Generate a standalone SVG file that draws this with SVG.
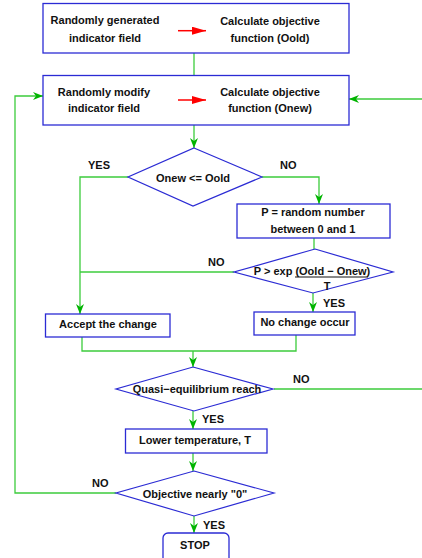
<svg xmlns="http://www.w3.org/2000/svg" width="422" height="558" viewBox="0 0 422 558">
<style>
.box{fill:#fff;stroke:#2b2bd4;stroke-width:1.3}
.dia{fill:#fff;stroke:#2b2bd4;stroke-width:1.2}
.t{font-family:"Liberation Sans",Arial,sans-serif;font-weight:bold;font-size:11px;fill:#111;text-anchor:middle}
.lbl{font-family:"Liberation Sans",Arial,sans-serif;font-weight:bold;font-size:11px;fill:#111}
.c{fill:none;stroke:#3ccc3c;stroke-width:1.3}
.r{fill:none;stroke:#ff0000;stroke-width:1.5}
</style>
<defs>
<marker id="ga" markerUnits="userSpaceOnUse" markerWidth="11" markerHeight="9" refX="10" refY="4" orient="auto" viewBox="0 0 11 9">
<path d="M0,0 L10,4 L0,8 L3,4 z" fill="#00b400"/>
</marker>
<marker id="ra" markerUnits="userSpaceOnUse" markerWidth="15" markerHeight="9" refX="14" refY="4" orient="auto" viewBox="0 0 15 9">
<path d="M0,0 L14,4 L0,8 z" fill="#ff0000"/>
</marker>
</defs>
<g id="connectors">
<path class="c" d="M194,53 V75"/>
<path class="c" d="M116,493 H15 V96 H43" marker-end="url(#ga)"/>
<path class="c" d="M274,389 H424 V99 H349" marker-end="url(#ga)"/>
<path class="c" d="M194,125 V148" marker-end="url(#ga)"/>
<path class="c" d="M128,177 H80 V314" marker-end="url(#ga)"/>
<path class="c" d="M262,177 H319 V204" marker-end="url(#ga)"/>
<path class="c" d="M314,238 V249"/>
<path class="c" d="M234,272 H80"/>
<path class="c" d="M313,293 V312" marker-end="url(#ga)"/>
<path class="c" d="M82,337 V351 H296 V335"/>
<path class="c" d="M193,351 V367" marker-end="url(#ga)"/>
<path class="c" d="M193,411 V429" marker-end="url(#ga)"/>
<path class="c" d="M193,453 V471" marker-end="url(#ga)"/>
<path class="c" d="M194,516 V533" marker-end="url(#ga)"/>
<text class="lbl" x="88" y="169">YES</text>
<text class="lbl" x="280" y="169">NO</text>
<text class="lbl" x="208" y="266">NO</text>
<text class="lbl" x="323" y="307">YES</text>
<text class="lbl" x="293" y="383">NO</text>
<text class="lbl" x="202" y="423">YES</text>
<text class="lbl" x="92" y="487">NO</text>
<text class="lbl" x="203" y="529">YES</text>
</g>
<g id="init">
<rect class="box" x="43" y="3.5" width="306" height="49.5"/>
<text class="t" x="105" y="24">Randomly generated</text>
<text class="t" x="105" y="42">indicator field</text>
<path class="r" d="M178,30.7 H206" marker-end="url(#ra)"/>
<text class="t" x="270" y="25">Calculate objective</text>
<text class="t" x="270" y="42">function (Oold)</text>
</g>
<g id="modify">
<rect class="box" x="43" y="75.5" width="306" height="49.5"/>
<text class="t" x="104" y="96">Randomly modify</text>
<text class="t" x="104" y="112">indicator field</text>
<path class="r" d="M178,100 H206" marker-end="url(#ra)"/>
<text class="t" x="270" y="96">Calculate objective</text>
<text class="t" x="270" y="112">function (Onew)</text>
</g>
<g id="cmp">
<polygon class="dia" points="194,148 262,177 193,206 128,177"/>
<text class="t" x="193" y="182">Onew &lt;= Oold</text>
</g>
<g id="random">
<rect class="box" x="237" y="204" width="153" height="34"/>
<text class="t" x="313" y="216">P = random number</text>
<text class="t" x="313" y="233">between 0 and 1</text>
</g>
<g id="prob">
<polygon class="dia" points="315,249 393,272 313,293 234,272"/>
<text class="t" x="312" y="275">P &gt; exp (Oold − Onew)</text>
<line x1="295" y1="277" x2="368" y2="277" stroke="#111" stroke-width="1"/>
<text class="t" x="327" y="290">T</text>
</g>
<g id="accept">
<rect class="box" x="45.5" y="314" width="124.5" height="23"/>
<text class="t" x="108" y="328">Accept the change</text>
</g>
<g id="nochange">
<rect class="box" x="254" y="312" width="101" height="23"/>
<text class="t" x="305" y="326">No change occur</text>
</g>
<g id="quasi">
<polygon class="dia" points="193,367 273,389 194,411 116,389"/>
<text class="t" x="197" y="393">Quasi−equilibrium reach</text>
</g>
<g id="lower">
<rect class="box" x="125.5" y="429" width="141.5" height="24"/>
<text class="t" x="195" y="444">Lower temperature, T</text>
</g>
<g id="objective">
<polygon class="dia" points="194,471 274,493 194,516 116,493"/>
<text class="t" x="195" y="498">Objective nearly "0"</text>
</g>
<g id="stop">
<rect class="box" x="163" y="533" width="66" height="30" rx="5" ry="5"/>
<text class="t" x="195" y="549">STOP</text>
</g>
</svg>
